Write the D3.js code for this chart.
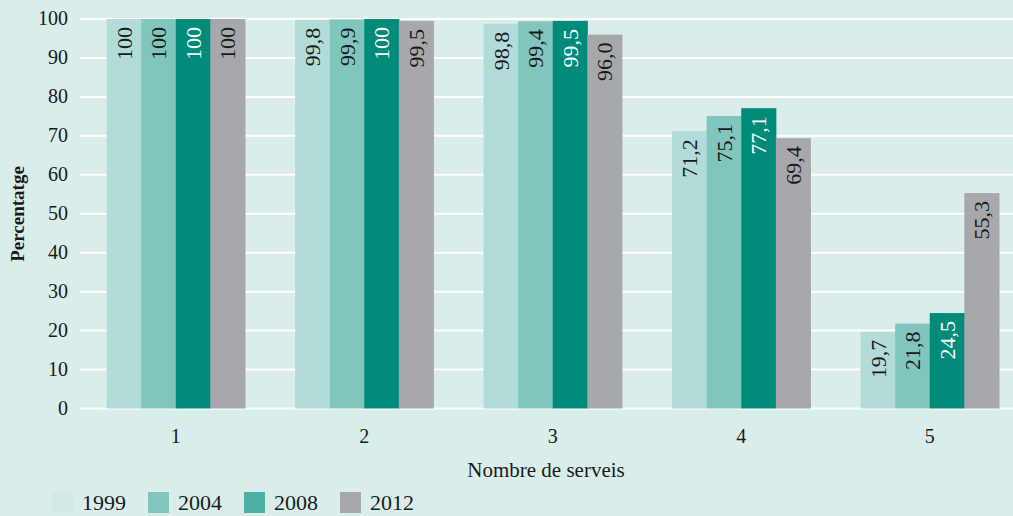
<!DOCTYPE html>
<html>
<head>
<meta charset="utf-8">
<script src="https://cdn.jsdelivr.net/npm/d3@7"></script>
<style>
  body { margin: 0; background: #d9edeb; }
  svg text { font-family: "Liberation Serif", "DejaVu Serif", serif; fill: #1a1a1a; font-variant-numeric: oldstyle-nums; }
</style>
</head>
<body>
<svg id="chart" width="1013" height="516"></svg>
<script>
// categories and series
var categories = ["1", "2", "3", "4", "5"];
var years = ["1999", "2004", "2008", "2012"];
var values1999 = [100, 99.8, 98.8, 71.2, 19.7];
var values2004 = [100, 99.9, 99.4, 75.1, 21.8];
var values2008 = [100, 100, 99.5, 77.1, 24.5];
var values2012 = [100, 99.5, 96.0, 69.4, 55.3];
var yTicks = [0, 10, 20, 30, 40, 50, 60, 70, 80, 90, 100];

var series = [values1999, values2004, values2008, values2012];
var barColors = ["#b2dcd8", "#80c6bd", "#008b7b", "#a7a8ac"];
var legendColors = ["#d2eae6", "#80c6bd", "#4fb0a5", "#a7a8ac"];

var svg = d3.select("#chart");
svg.append("rect").attr("width", 1013).attr("height", 516).attr("fill", "#d9edeb");

var x = d3.scaleBand().domain(categories).range([81.5, 1024]).paddingInner(0).paddingOuter(0);
var inner = d3.scaleBand().domain(years).range([0, 138.4]);
var y = d3.scaleLinear().domain([0, 100]).range([408.5, 19]);

// grid
svg.append("g").selectAll("line").data(yTicks).enter().append("line")
    .attr("x1", 80).attr("x2", 1013)
    .attr("y1", function (d) { return y(d); })
    .attr("y2", function (d) { return y(d); })
    .attr("stroke", "#ffffff").attr("stroke-width", 2);

// y tick labels
svg.append("g").selectAll("text").data(yTicks).enter().append("text")
    .attr("x", 68).attr("y", function (d) { return y(d); })
    .attr("dy", "0.32em").attr("text-anchor", "end")
    .style("font-size", "20px")
    .text(function (d) { return d; });

// bars
var fmt = function (v) { return v === 100 ? "100" : v.toFixed(1).replace(".", ","); };
var groups = svg.append("g").selectAll("g").data(categories).enter().append("g")
    .attr("transform", function (c) { return "translate(" + (x(c) + (x.bandwidth() - 138.4) / 2) + ",0)"; });

years.forEach(function (yr, si) {
    groups.append("rect")
        .attr("x", inner(yr))
        .attr("width", inner.bandwidth() + 0.5)
        .attr("y", function (c, i) { return y(series[si][i]); })
        .attr("height", function (c, i) { return y(0) - y(series[si][i]); })
        .attr("fill", barColors[si]);
    groups.append("text")
        .attr("transform", function (c, i) {
            return "translate(" + (inner(yr) + inner.bandwidth() / 2) + "," + (y(series[si][i]) + 8) + ") rotate(-90)";
        })
        .attr("text-anchor", "end")
        .attr("dy", "0.35em")
        .style("font-size", "22px")
        .style("fill", si === 2 ? "#ffffff" : "#1a1a1a")
        .text(function (c, i) { return fmt(series[si][i]); });
});

// x tick labels
svg.append("g").selectAll("text").data(categories).enter().append("text")
    .attr("x", function (c) { return x(c) + x.bandwidth() / 2; })
    .attr("y", 443).attr("text-anchor", "middle")
    .style("font-size", "20px")
    .text(function (c) { return c; });

// axis titles
svg.append("text").attr("x", 546).attr("y", 477).attr("text-anchor", "middle")
    .style("font-size", "21px").text("Nombre de serveis");
svg.append("text").attr("transform", "translate(24,214) rotate(-90)")
    .attr("text-anchor", "middle").style("font-size", "19px").style("font-weight", "bold")
    .text("Percentatge");

// legend
var legend = svg.append("g").selectAll("g").data(years).enter().append("g")
    .attr("transform", function (d, i) { return "translate(" + (52 + i * 96) + ",492)"; });
legend.append("rect").attr("width", 21).attr("height", 21)
    .attr("fill", function (d, i) { return legendColors[i]; });
legend.append("text").attr("x", 30).attr("y", 18).style("font-size", "22px")
    .text(function (d) { return d; });
</script>
</body>
</html>
